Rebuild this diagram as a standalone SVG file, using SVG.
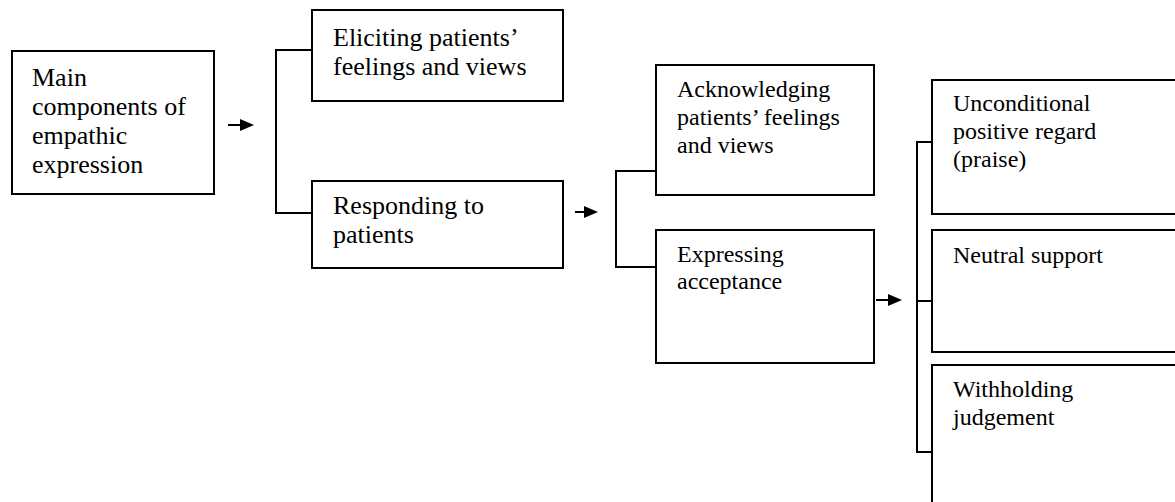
<svg xmlns="http://www.w3.org/2000/svg" width="1175" height="502" viewBox="0 0 1175 502">
<style>
.box{fill:#fff;stroke:#000;stroke-width:2}
.conn{fill:none;stroke:#000;stroke-width:2}
.t{font-family:"Liberation Serif","Times New Roman",serif;fill:#000}
.l{font-size:26px}
.s{font-size:24px}
</style>
<defs>
<marker id="ah" markerWidth="14" markerHeight="12" refX="0" refY="6" orient="auto" markerUnits="userSpaceOnUse">
<path d="M0,0 L14,6 L0,12 Z" fill="#000"/>
</marker>
</defs>
<rect width="1175" height="502" fill="#fff"/>
<g id="connectors">
<path class="conn" d="M312,50 H276 V213 H312"/>
<path class="conn" d="M656,171 H616 V267 H656"/>
<path class="conn" d="M932,142 H917 V452 H932 M917,301 H932"/>
<line class="conn" x1="228" y1="125" x2="240" y2="125" marker-end="url(#ah)"/>
<line class="conn" x1="575" y1="212" x2="584" y2="212" marker-end="url(#ah)"/>
<line class="conn" x1="876" y1="300" x2="888" y2="300" marker-end="url(#ah)"/>
</g>
<g id="n1">
<rect class="box" x="12" y="51" width="202" height="143"/>
<text class="t l"><tspan x="32" y="86">Main</tspan><tspan x="32" y="115">components of</tspan><tspan x="32" y="144">empathic</tspan><tspan x="32" y="173">expression</tspan></text>
</g>
<g id="n2">
<rect class="box" x="312" y="10" width="251" height="91"/>
<text class="t l"><tspan x="333" y="46">Eliciting patients’</tspan><tspan x="333" y="75">feelings and views</tspan></text>
</g>
<g id="n3">
<rect class="box" x="312" y="181" width="251" height="87"/>
<text class="t l"><tspan x="333" y="214">Responding to</tspan><tspan x="333" y="243">patients</tspan></text>
</g>
<g id="n4">
<rect class="box" x="656" y="65" width="218" height="130"/>
<text class="t s"><tspan x="677" y="97">Acknowledging</tspan><tspan x="677" y="125">patients’ feelings</tspan><tspan x="677" y="153">and views</tspan></text>
</g>
<g id="n5">
<rect class="box" x="656" y="230" width="218" height="133"/>
<text class="t s"><tspan x="677" y="262">Expressing</tspan><tspan x="677" y="289">acceptance</tspan></text>
</g>
<g id="n6">
<rect class="box" x="932" y="80" width="260" height="134"/>
<text class="t s"><tspan x="953" y="111">Unconditional</tspan><tspan x="953" y="139">positive regard</tspan><tspan x="953" y="167">(praise)</tspan></text>
</g>
<g id="n7">
<rect class="box" x="932" y="230" width="260" height="122"/>
<text class="t s"><tspan x="953" y="263">Neutral support</tspan></text>
</g>
<g id="n8">
<rect class="box" x="932" y="365" width="260" height="150"/>
<text class="t s"><tspan x="953" y="397">Withholding</tspan><tspan x="953" y="425">judgement</tspan></text>
</g>
</svg>
